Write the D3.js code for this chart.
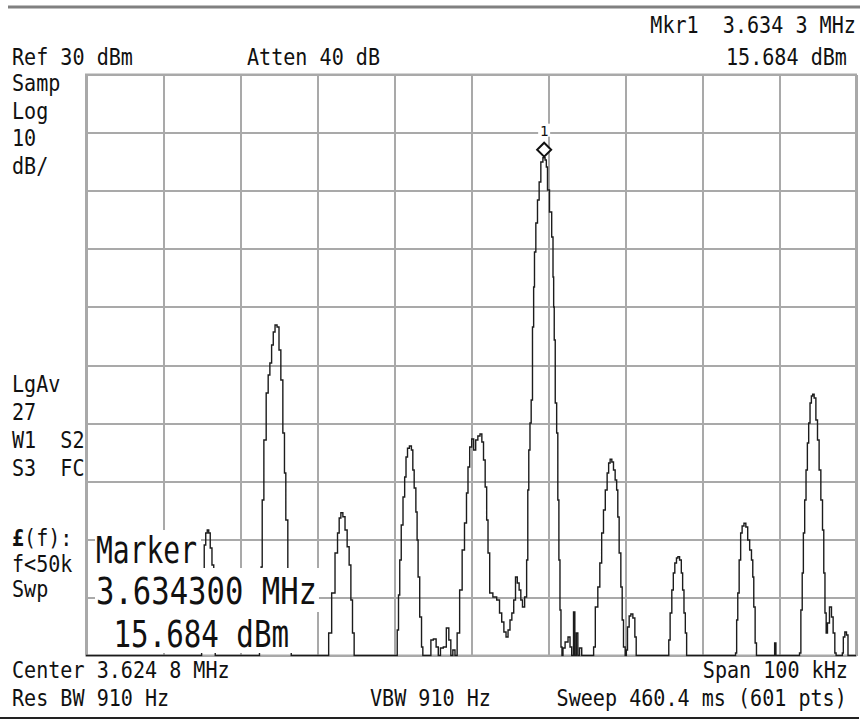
<!DOCTYPE html>
<html>
<head>
<meta charset="utf-8">
<script src="https://cdn.jsdelivr.net/npm/d3@7"></script>
<style>
  html, body { margin: 0; padding: 0; background: #fff; }
  svg { display: block; }
  text { font-family: "DejaVu Sans Mono", monospace; fill: #111; }
</style>
</head>
<body>
<svg id="chart" width="860" height="720"></svg>
<script>
// ---- Analyzer settings ----
const refLevelDbm = 30;
const dbPerDiv = 10;
const centerKHz = 3624.8;
const spanKHz = 100;
const gridDivisions = 10;

// ---- Marker 1 ----
const markerKHz = 3634.3;
const markerDbm = 15.684;

// ---- Trace vertices: frequency (kHz) and level (dBm) ----
const traceKHz = [
  3574.8, 3589.6, 3589.7, 3589.93, 3590.06, 3590.25, 3590.45, 3590.64, 3590.84, 3591.03,
  3591.29, 3591.49, 3591.68, 3597.2, 3597.46, 3597.62, 3597.75, 3598.05, 3598.35, 3598.57,
  3598.79, 3599.02, 3599.22, 3599.48, 3599.74, 3599.99, 3600.22, 3600.51, 3600.64, 3600.86,
  3601.16, 3601.36, 3601.55, 3606.14, 3606.49, 3606.92, 3607.36, 3607.57, 3607.79, 3608.01,
  3608.31, 3608.57, 3608.86, 3609.09, 3609.31, 3609.51, 3609.74, 3615.12, 3615.32, 3615.45,
  3615.64, 3615.84, 3616.10, 3616.27, 3616.45, 3616.66, 3616.94, 3617.18, 3617.31, 3617.53,
  3617.75, 3617.85, 3618.01, 3618.27, 3618.48, 3618.61, 3619.48, 3619.70, 3620.12, 3620.42,
  3620.68, 3620.99, 3621.42, 3621.77, 3622.07, 3622.29, 3622.59, 3622.85, 3623.15, 3623.50,
  3623.80, 3624.11, 3624.32, 3624.50, 3624.76, 3625.02, 3625.28, 3625.54, 3625.84, 3626.10,
  3626.32, 3626.53, 3626.75, 3626.92, 3627.10, 3627.36, 3627.92, 3628.35, 3628.66, 3628.92,
  3629.22, 3629.48, 3629.74, 3629.99, 3630.22, 3630.48, 3630.68, 3630.94, 3631.16, 3631.38,
  3631.59, 3631.94, 3632.11, 3632.24, 3632.37, 3632.55, 3632.68, 3632.89, 3632.98, 3633.11,
  3633.33, 3633.54, 3633.76, 3633.98, 3634.3, 3634.54, 3634.63, 3634.84, 3635.15, 3635.41,
  3635.49, 3635.58, 3635.64, 3635.84, 3636.01, 3636.14, 3636.29, 3636.42, 3636.55, 3636.68,
  3636.81, 3637.23, 3637.57, 3637.75, 3638.01, 3638.22, 3638.35, 3638.61, 3638.74, 3639.05,
  3639.31, 3640.68, 3640.77, 3641.12, 3641.42, 3641.64, 3641.90, 3642.11, 3642.37, 3642.59,
  3642.76, 3642.98, 3643.20, 3643.41, 3643.63, 3643.80, 3643.93, 3644.15, 3644.37, 3644.50,
  3644.71, 3644.93, 3645.02, 3645.23, 3645.45, 3645.67, 3645.97, 3646.19, 3646.32, 3650.42,
  3650.55, 3650.77, 3650.99, 3651.16, 3651.38, 3651.59, 3651.75, 3652.03, 3652.20, 3652.37,
  3652.55, 3652.72, 3652.89, 3659.09, 3659.22, 3659.38, 3659.51, 3659.74, 3659.90, 3660.12,
  3660.38, 3660.61, 3660.86, 3661.12, 3661.33, 3661.46, 3661.59, 3661.81, 3661.94, 3664.15,
  3664.32, 3664.48, 3667.40, 3667.53, 3667.75, 3667.88, 3668.05, 3668.22, 3668.40, 3668.57,
  3668.74, 3668.92, 3669.09, 3669.25, 3669.48, 3669.70, 3669.90, 3670.12, 3670.35, 3670.55,
  3670.68, 3670.86, 3670.99, 3671.20, 3671.51, 3671.72, 3671.94, 3672.16, 3672.27, 3672.98,
  3673.07, 3673.24, 3673.46, 3673.67, 3673.85, 3674.8
];
const traceDbm = [
  -70, -70, -70, -60.45, -55.28, -50.98, -48.92, -48.40, -48.92, -51.50,
  -54.42, -57.01, -70, -70, -62.17, -54.77, -43.24, -32.91, -24.82, -21.72,
  -19.66, -16.56, -14.32, -13.12, -13.46, -17.42, -22.58, -31.70, -38.59, -46.68,
  -55.28, -62.17, -70, -70, -66.13, -59.24, -52.36, -48.92, -46.33, -45.42,
  -46.11, -48.40, -51.27, -54.42, -60.45, -66.13, -70, -70, -65.61, -59.59,
  -53.56, -47.54, -42.72, -39.28, -35.83, -34.34, -33.94, -34.63, -38.07, -41.17,
  -45.30, -50.12, -56.49, -63.37, -68.54, -70, -70, -67.33, -67.16, -68.54,
  -70, -68.71, -68.54, -65.27, -67.33, -70, -69.05, -70, -66.13, -58.73,
  -51.84, -47.19, -42.03, -37.56, -34.11, -32.74, -34.63, -32.91, -32.22, -31.88,
  -33.25, -36.35, -41.00, -46.68, -52.36, -59.24, -59.93, -60.45, -62.69, -64.23,
  -65.96, -66.82, -65.61, -63.89, -62.69, -60.45, -56.49, -57.52, -58.73, -60.45,
  -61.65, -59.93, -53.56, -41.51, -34.63, -29.98, -26.02, -13.46, -6.57, -0.55,
  4.44, 8.40, 11.50, 14.94, 15.684, 15.28, 14.08, 10.12, 6.33, 2.03,
  -4.85, -10.02, -15.70, -26.54, -31.70, -43.24, -53.56, -62.17, -68.54, -70,
  -68.71, -67.68, -66.82, -68.54, -70, -62.51, -70, -66.13, -70, -68.71,
  -70, -70, -68.54, -61.65, -58.21, -54.08, -48.92, -44.96, -41.51, -38.59,
  -36.87, -36.23, -36.70, -38.07, -39.79, -41.51, -46.16, -52.36, -58.21, -63.89,
  -68.54, -70, -69.05, -65.09, -63.20, -62.86, -63.55, -66.82, -70, -70,
  -67.33, -62.69, -58.73, -55.80, -54.08, -53.22, -52.99, -53.56, -55.80, -58.73,
  -62.69, -66.13, -70, -70, -69.57, -63.89, -59.24, -53.56, -48.92, -47.71,
  -47.25, -47.88, -50.12, -51.84, -53.56, -56.49, -61.65, -67.85, -70, -70,
  -67.85, -70, -70, -69.57, -62.17, -55.80, -48.92, -43.24, -38.07, -33.43,
  -29.98, -26.54, -25.34, -25.04, -25.68, -29.47, -32.91, -38.07, -43.24, -48.40,
  -55.80, -62.69, -66.13, -64.41, -61.65, -63.37, -66.13, -69.57, -70, -70,
  -69.57, -66.82, -65.96, -66.47, -70, -70
];

// ---- Annotation text ----
const headerTexts = ["Ref 30 dBm", "Atten 40 dB"];
const markerReadout = ["Mkr1  3.634 3 MHz", "15.684 dBm"];
const sideTopTexts = ["Samp", "Log", "10", "dB/"];
const sideMidTexts = ["LgAv", "27", "W1  S2", "S3  FC"];
const sideLowTexts = ["(f):", "f<50k", "Swp"];
const footerRow1 = ["Center 3.624 8 MHz", "Span 100 kHz"];
const footerRow2 = ["Res BW 910 Hz", "VBW 910 Hz", "Sweep 460.4 ms (601 pts)"];
const markerBoxTexts = ["Marker", "3.634300 MHz", " 15.684 dBm"];
const markerLabel = "1";

// ---- Layout ----
const plot = { left: 86, right: 856, top: 74.5, bottom: 655.5 };
const gridColor = "#a9a9a9";
const traceColor = "#1c1c1c";

const svg = d3.select("#chart");

const x = d3.scaleLinear()
  .domain([centerKHz - spanKHz / 2, centerKHz + spanKHz / 2])
  .range([plot.left, plot.right]);
const y = d3.scaleLinear()
  .domain([refLevelDbm - dbPerDiv * gridDivisions, refLevelDbm])
  .range([plot.bottom, plot.top]);

const xTicks = d3.range(gridDivisions + 1).map(i => x.domain()[0] + i * spanKHz / gridDivisions);
const yTicks = d3.range(gridDivisions + 1).map(i => y.domain()[0] + i * dbPerDiv);

// Graticule
const gx = svg.append("g")
  .attr("transform", `translate(0,${plot.bottom})`)
  .call(d3.axisBottom(x).tickValues(xTicks).tickFormat("").tickSize(-(plot.bottom - plot.top)).tickSizeOuter(0));
const gy = svg.append("g")
  .attr("transform", `translate(${plot.left},0)`)
  .call(d3.axisLeft(y).tickValues(yTicks).tickFormat("").tickSize(-(plot.right - plot.left)).tickSizeOuter(0));
[gx, gy].forEach(g => {
  g.select(".domain").remove();
  g.selectAll(".tick line").attr("stroke", gridColor).attr("stroke-width", 2).attr("shape-rendering", "crispEdges");
});

// Graticule border
svg.append("rect")
  .attr("x", plot.left).attr("y", plot.top)
  .attr("width", plot.right - plot.left).attr("height", plot.bottom - plot.top)
  .attr("fill", "none").attr("stroke", gridColor).attr("stroke-width", 2);

// Trace
svg.append("clipPath").attr("id", "plotClip")
  .append("rect")
  .attr("x", plot.left).attr("y", plot.top - 2)
  .attr("width", plot.right - plot.left).attr("height", plot.bottom - plot.top + 3);

const tracePoints = traceKHz.map((f, i) => [f, traceDbm[i]]);
const line = d3.line()
  .x(d => x(d[0]))
  .y(d => y(Math.max(d[1], y.domain()[0])))
  .curve(d3.curveStep);

svg.append("path")
  .datum(tracePoints)
  .attr("clip-path", "url(#plotClip)")
  .attr("fill", "none")
  .attr("stroke", traceColor)
  .attr("stroke-width", 1.4)
  .attr("stroke-linejoin", "miter")
  .attr("d", line);

// Marker diamond (bottom tip on the trace point) and its number
const mx = x(markerKHz), my = y(markerDbm);
const dHalf = 7;
svg.append("path")
  .attr("d", `M${mx},${my - 1 - 2 * dHalf} L${mx + dHalf},${my - 1 - dHalf} L${mx},${my - 1} L${mx - dHalf},${my - 1 - dHalf} Z`)
  .attr("fill", "#fff").attr("stroke", "#111").attr("stroke-width", 2);
svg.append("rect")
  .attr("x", mx - 6).attr("y", my - 34).attr("width", 12).attr("height", 13)
  .attr("fill", "#fff");
svg.append("text")
  .attr("x", mx).attr("y", my - 22)
  .attr("text-anchor", "middle")
  .attr("font-size", 14)
  .text(markerLabel);

// Large marker readout with white backing
const boxLines = [
  { text: markerBoxTexts[0], x: 96, base: 563, len: 101, bx: 95, bw: 106, by: 530, bh: 39 },
  { text: markerBoxTexts[1], x: 96, base: 604, len: 221, bx: 95, bw: 224, by: 568, bh: 44 },
  { text: markerBoxTexts[2], x: 96, base: 647, len: 193, bx: 95, bw: 205, by: 611, bh: 42 }
];
boxLines.forEach(b => {
  svg.append("rect").attr("x", b.bx).attr("y", b.by).attr("width", b.bw).attr("height", b.bh).attr("fill", "#fff");
});
boxLines.forEach(b => {
  svg.append("text")
    .attr("x", b.x).attr("y", b.base)
    .attr("font-size", 38)
    .attr("textLength", b.len)
    .attr("lengthAdjust", "spacingAndGlyphs")
    .style("white-space", "pre")
    .text(b.text);
});

// Small annotation text: 12.1 px character pitch, glyphs stretched vertically.
// Right-aligned strings are placed from their computed start.
const small = 20.1;
const pitch = small * 0.602;
const stretchY = 1.1;
function label(str, xPos, base, alignRight) {
  const x0 = alignRight ? xPos - str.length * pitch : xPos;
  const t = svg.append("text")
    .attr("transform", `translate(${x0},${base}) scale(1,${stretchY})`)
    .attr("font-size", small)
    .style("white-space", "pre");
  t.text(str);
  return t;
}

label(headerTexts[0], 12, 65);
label(headerTexts[1], 247, 65);
label(markerReadout[0], 856, 33, true);
label(markerReadout[1], 847, 65, true);

sideTopTexts.forEach((t, i) => label(t, 12, 91 + i * 27.5));
sideMidTexts.forEach((t, i) => label(t, 12, 392 + i * 28));

// Phase-noise function label with a bold script-L glyph
const lf = label("", 12, 546);
lf.append("tspan").attr("font-weight", "bold").text("£");
lf.append("tspan").text(sideLowTexts[0]);
label(sideLowTexts[1], 12, 572);
label(sideLowTexts[2], 12, 597);

label(footerRow1[0], 12, 678);
label(footerRow1[1], 848, 678, true);
label(footerRow2[0], 12, 706);
label(footerRow2[1], 370, 706);
label(footerRow2[2], 847, 706, true);

// Screen frame
svg.append("rect").attr("x", 8).attr("y", 5.5).attr("width", 852).attr("height", 3).attr("fill", "#808080");
svg.append("rect").attr("x", 0).attr("y", 717).attr("width", 859).attr("height", 2).attr("fill", "#222");
</script>
</body>
</html>
